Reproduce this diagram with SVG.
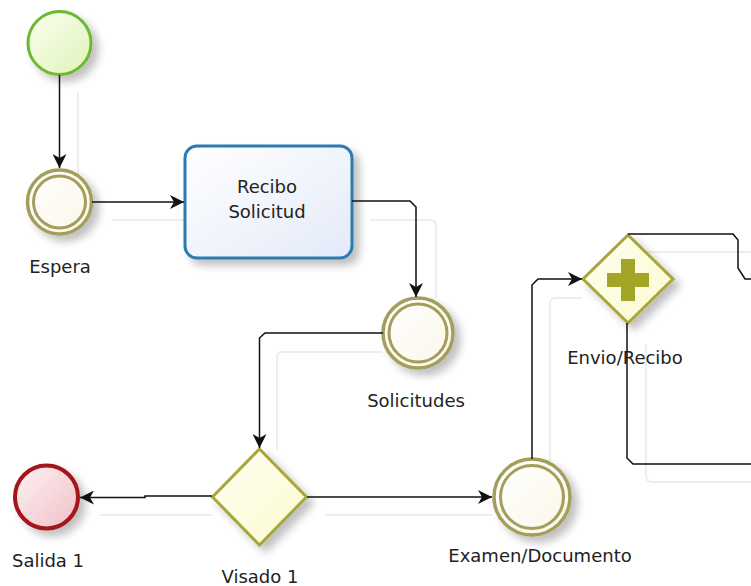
<svg xmlns="http://www.w3.org/2000/svg" width="751" height="586" viewBox="0 0 751 586">
<style>
.lbl{font-family:"DejaVu Sans","Liberation Sans",sans-serif;font-size:18px;fill:#222;text-anchor:middle}
.flow{fill:none;stroke:#111;stroke-width:1.5}
.ghost{fill:none;stroke:#eeeeee;stroke-width:2}
.inter{fill:url(#gInter);stroke:#a39e5c;stroke-width:3.5}
.interIn{fill:none;stroke:#a39e5c;stroke-width:3}
.gw{fill:url(#gGw);stroke:#a8a638;stroke-width:3}
</style>
<defs>
<marker id="arr" markerWidth="16" markerHeight="14" refX="14" refY="7" orient="auto" markerUnits="userSpaceOnUse">
<path d="M0,0 L14,7 L0,14 L4,7 Z" fill="#111"/>
</marker>
<linearGradient id="gStart" x1="0" y1="0" x2="1" y2="1"><stop offset="0" stop-color="#fbfff0"/><stop offset="1" stop-color="#dff3b8"/></linearGradient>
<linearGradient id="gEnd" x1="0" y1="0" x2="1" y2="1"><stop offset="0" stop-color="#fdf2f3"/><stop offset="1" stop-color="#f0c0c6"/></linearGradient>
<linearGradient id="gInter" x1="0" y1="0" x2="1" y2="1"><stop offset="0" stop-color="#ffffff"/><stop offset="1" stop-color="#fbf6e8"/></linearGradient>
<linearGradient id="gTask" x1="0" y1="0" x2="1" y2="1"><stop offset="0" stop-color="#ffffff"/><stop offset="1" stop-color="#e3eaf8"/></linearGradient>
<linearGradient id="gGw" x1="0" y1="0" x2="1" y2="1"><stop offset="0" stop-color="#fffff2"/><stop offset="1" stop-color="#fafad0"/></linearGradient>
<filter id="sh" x="-30%" y="-30%" width="170%" height="170%">
<feGaussianBlur in="SourceAlpha" stdDeviation="4"/>
<feOffset dx="6" dy="6" result="b"/>
<feComponentTransfer><feFuncA type="linear" slope="0.25"/></feComponentTransfer>
<feMerge><feMergeNode/><feMergeNode in="SourceGraphic"/></feMerge>
</filter>
</defs>
<rect width="751" height="586" fill="#ffffff"/>
<g id="connector-shadows">
<path class="ghost" d="M78,92 V220 M112,220 H186"/>
<path class="ghost" d="M370,220 H430 Q436,220 436,226 V298"/>
<path class="ghost" d="M382,352 H282 Q277,352 277,358 V450"/>
<path class="ghost" d="M212,515 H100"/>
<path class="ghost" d="M325,515 H492"/>
<path class="ghost" d="M550,480 V304 Q550,298 556,298 H582"/>
<path class="ghost" d="M646,344 V476 Q646,482 652,482 H751"/>
<path class="ghost" d="M646,252 H751"/>
</g>
<g id="start">
<circle cx="59.5" cy="43" r="31.5" fill="url(#gStart)" stroke="#6cb830" stroke-width="3" filter="url(#sh)"/>
</g>
<g id="espera">
<circle cx="59.5" cy="202" r="32" class="inter" filter="url(#sh)"/>
<circle cx="59.5" cy="202" r="26" class="interIn"/>
<text class="lbl" x="60" y="273">Espera</text>
</g>
<g id="recibo">
<rect x="185" y="146" width="167" height="112" rx="12" fill="url(#gTask)" stroke="#2a7cb0" stroke-width="3" filter="url(#sh)"/>
<text class="lbl" x="267" y="193">Recibo</text>
<text class="lbl" x="267" y="218">Solicitud</text>
</g>
<g id="solicitudes">
<circle cx="418" cy="333" r="35" class="inter" filter="url(#sh)"/>
<circle cx="418" cy="333" r="29" class="interIn"/>
<text class="lbl" x="416" y="407">Solicitudes</text>
</g>
<g id="visado">
<polygon points="259.5,449 306.5,497 259.5,545 212.5,497" class="gw" filter="url(#sh)"/>
<text class="lbl" x="260" y="583">Visado 1</text>
</g>
<g id="salida">
<circle cx="46.5" cy="497" r="31.5" fill="url(#gEnd)" stroke="#a3141c" stroke-width="4" filter="url(#sh)"/>
<text class="lbl" x="48" y="567">Salida 1</text>
</g>
<g id="examen">
<circle cx="532" cy="497" r="38" class="inter" filter="url(#sh)"/>
<circle cx="532" cy="497" r="31.5" class="interIn"/>
<text class="lbl" x="540" y="562">Examen/Documento</text>
</g>
<g id="envio">
<polygon points="628,235 673,279 628,323 583,279" class="gw" filter="url(#sh)"/>
<path d="M621,259 H635 V273 H649 V287 H635 V301 H621 V287 H607 V273 H621 Z" fill="#a3a526"/>
<text class="lbl" x="625" y="364">Envio/Recibo</text>
</g>
<g id="connectors">
<path class="flow" d="M59.5,75 V168" marker-end="url(#arr)"/>
<path class="flow" d="M92,202 H184" marker-end="url(#arr)"/>
<path class="flow" d="M352,201 H410 L416,207 V297" marker-end="url(#arr)"/>
<path class="flow" d="M383,333 H265 L259.5,338 V448" marker-end="url(#arr)"/>
<path class="flow" d="M212,496 H145 V497.5 H80" marker-end="url(#arr)"/>
<path class="flow" d="M307,497 H492" marker-end="url(#arr)"/>
<path class="flow" d="M532,459 V285 L538,279 H582" marker-end="url(#arr)"/>
<path class="flow" d="M628,234 H733 L738,240 V268 L745,279 H751"/>
<path class="flow" d="M627,323 V458 L633,464 H751"/>
</g>
</svg>
